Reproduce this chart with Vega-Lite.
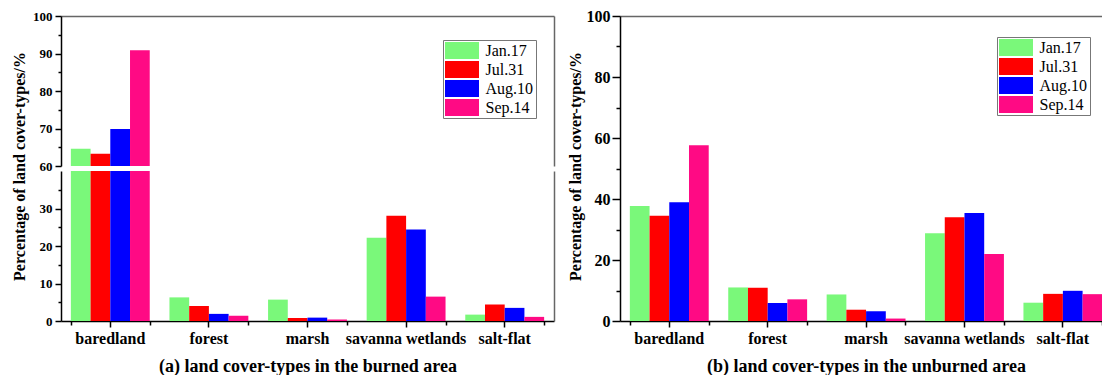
{
  "$schema": "https://vega.github.io/schema/vega-lite/v6.json",
  "background": "white",
  "padding": {"left": 10, "top": 8, "right": 0, "bottom": 0},
  "spacing": 13,
  "datasets": {
    "burned": [
      {"type": "baredland", "date": "Jan.17", "value": 64.6},
      {"type": "baredland", "date": "Jul.31", "value": 63.3},
      {"type": "baredland", "date": "Aug.10", "value": 69.9},
      {"type": "baredland", "date": "Sep.14", "value": 90.9},
      {"type": "forest", "date": "Jan.17", "value": 6.3},
      {"type": "forest", "date": "Jul.31", "value": 4.0},
      {"type": "forest", "date": "Aug.10", "value": 1.9},
      {"type": "forest", "date": "Sep.14", "value": 1.4},
      {"type": "marsh", "date": "Jan.17", "value": 5.7},
      {"type": "marsh", "date": "Jul.31", "value": 0.8},
      {"type": "marsh", "date": "Aug.10", "value": 0.9},
      {"type": "marsh", "date": "Sep.14", "value": 0.4},
      {"type": "savanna wetlands", "date": "Jan.17", "value": 22.2},
      {"type": "savanna wetlands", "date": "Jul.31", "value": 28.1},
      {"type": "savanna wetlands", "date": "Aug.10", "value": 24.4},
      {"type": "savanna wetlands", "date": "Sep.14", "value": 6.5},
      {"type": "salt-flat", "date": "Jan.17", "value": 1.7},
      {"type": "salt-flat", "date": "Jul.31", "value": 4.4},
      {"type": "salt-flat", "date": "Aug.10", "value": 3.5},
      {"type": "salt-flat", "date": "Sep.14", "value": 1.1}
    ],
    "unburned": [
      {"type": "baredland", "date": "Jan.17", "value": 37.7},
      {"type": "baredland", "date": "Jul.31", "value": 34.5},
      {"type": "baredland", "date": "Aug.10", "value": 38.9},
      {"type": "baredland", "date": "Sep.14", "value": 57.6},
      {"type": "forest", "date": "Jan.17", "value": 11.0},
      {"type": "forest", "date": "Jul.31", "value": 10.9},
      {"type": "forest", "date": "Aug.10", "value": 5.9},
      {"type": "forest", "date": "Sep.14", "value": 7.1},
      {"type": "marsh", "date": "Jan.17", "value": 8.7},
      {"type": "marsh", "date": "Jul.31", "value": 3.7},
      {"type": "marsh", "date": "Aug.10", "value": 3.2},
      {"type": "marsh", "date": "Sep.14", "value": 0.8},
      {"type": "savanna wetlands", "date": "Jan.17", "value": 28.8},
      {"type": "savanna wetlands", "date": "Jul.31", "value": 34.0},
      {"type": "savanna wetlands", "date": "Aug.10", "value": 35.4},
      {"type": "savanna wetlands", "date": "Sep.14", "value": 22.0},
      {"type": "salt-flat", "date": "Jan.17", "value": 6.0},
      {"type": "salt-flat", "date": "Jul.31", "value": 8.9},
      {"type": "salt-flat", "date": "Aug.10", "value": 9.9},
      {"type": "salt-flat", "date": "Sep.14", "value": 8.8}
    ]
  },
  "resolve": {"legend": {"color": "independent"}},
  "hconcat": [
    {
      "bounds": "flush",
      "spacing": 5,
      "resolve": {"legend": {"color": "independent"}},
      "vconcat": [
        {
          "width": 493,
          "height": 150,
          "data": {"name": "burned"},
          "encoding": {
            "x": {"field": "type", "type": "nominal", "scale": {"domain": ["baredland", "forest", "marsh", "savanna wetlands", "salt-flat"], "paddingInner": 0.2, "paddingOuter": 0.1}, "axis": null},
            "xOffset": {"field": "date", "type": "nominal", "scale": {"domain": ["Jan.17", "Jul.31", "Aug.10", "Sep.14"], "paddingInner": 0, "paddingOuter": 0}},
            "color": {"field": "date", "type": "nominal", "scale": {"domain": ["Jan.17", "Jul.31", "Aug.10", "Sep.14"], "range": ["#7AF87A", "#FF0000", "#0000FF", "#FF0A84"]}, "legend": {"legendX": 382, "legendY": 24}}
          },
          "layer": [
            {
              "mark": {"type": "bar", "clip": true},
              "encoding": {
                "y": {"field": "value", "type": "quantitative", "scale": {"domain": [60, 100], "nice": false, "zero": false},
                  "axis": {"orient": "left", "values": [60, 70, 80, 90, 100], "title": null, "labelFontSize": 13}}
              }
            },
            {
              "mark": {"type": "bar", "clip": true, "opacity": 0},
              "encoding": {
                "y": {"field": "value", "type": "quantitative",
                  "axis": {"orient": "left", "values": [65, 75, 85, 95], "title": null, "labels": false, "domain": false, "tickSize": 3}}
              }
            },
            {
              "mark": {"type": "bar", "clip": true, "opacity": 0},
              "encoding": {
                "x": {"field": "type", "type": "nominal", "axis": {"orient": "top", "labels": false, "ticks": false, "title": null, "domainColor": "#666666"}},
                "y": {"field": "value", "type": "quantitative",
                  "axis": {"orient": "right", "title": null, "labels": false, "ticks": false, "domainColor": "#666666"}}
              }
            }
          ],
          "resolve": {"axis": {"x": "independent", "y": "independent"}}
        },
        {
          "width": 493,
          "height": 150,
          "data": {"name": "burned"},
          "encoding": {
            "xOffset": {"field": "date", "type": "nominal", "scale": {"domain": ["Jan.17", "Jul.31", "Aug.10", "Sep.14"], "paddingInner": 0, "paddingOuter": 0}},
            "color": {"field": "date", "type": "nominal", "scale": {"domain": ["Jan.17", "Jul.31", "Aug.10", "Sep.14"], "range": ["#7AF87A", "#FF0000", "#0000FF", "#FF0A84"]}, "legend": null}
          },
          "layer": [
            {
              "mark": {"type": "bar", "clip": true},
              "encoding": {
                "x": {"field": "type", "type": "nominal", "scale": {"domain": ["baredland", "forest", "marsh", "savanna wetlands", "salt-flat"], "paddingInner": 0.2, "paddingOuter": 0.1},
                  "axis": {"orient": "bottom", "title": "(a) land cover-types in the burned area", "titleY": 45}},
                "y": {"field": "value", "type": "quantitative", "scale": {"domain": [0, 40], "nice": false},
                  "axis": {"orient": "left", "values": [0, 10, 20, 30], "labelFontSize": 13, "title": "Percentage of land cover-types/%", "titleX": -42, "titleY": -5}}
              }
            },
            {
              "mark": {"type": "bar", "clip": true, "opacity": 0},
              "encoding": {
                "x": {"field": "type", "type": "nominal", "axis": {"orient": "bottom", "tickBand": "extent", "tickSize": 4, "labels": false, "domain": false, "title": null}},
                "y": {"field": "value", "type": "quantitative",
                  "axis": {"orient": "left", "values": [5, 15, 25, 35], "title": null, "labels": false, "domain": false, "tickSize": 3}}
              }
            },
            {
              "mark": {"type": "bar", "clip": true, "opacity": 0},
              "encoding": {
                "x": {"field": "type", "type": "nominal", "axis": null},
                "y": {"field": "value", "type": "quantitative",
                  "axis": {"orient": "right", "title": null, "labels": false, "ticks": false, "domainColor": "#666666"}}
              }
            }
          ],
          "resolve": {"axis": {"x": "independent", "y": "independent"}}
        }
      ]
    },
    {
      "width": 492,
      "height": 305,
      "data": {"name": "unburned"},
      "encoding": {
        "xOffset": {"field": "date", "type": "nominal", "scale": {"domain": ["Jan.17", "Jul.31", "Aug.10", "Sep.14"], "paddingInner": 0, "paddingOuter": 0}},
        "color": {"field": "date", "type": "nominal", "scale": {"domain": ["Jan.17", "Jul.31", "Aug.10", "Sep.14"], "range": ["#7AF87A", "#FF0000", "#0000FF", "#FF0A84"]}, "legend": {"legendX": 377, "legendY": 21}}
      },
      "layer": [
        {
          "mark": {"type": "bar", "clip": true},
          "encoding": {
            "x": {"field": "type", "type": "nominal", "scale": {"domain": ["baredland", "forest", "marsh", "savanna wetlands", "salt-flat"], "paddingInner": 0.2, "paddingOuter": 0.1},
              "axis": {"orient": "bottom", "title": "(b) land cover-types in the unburned area", "titleY": 45}},
            "y": {"field": "value", "type": "quantitative", "scale": {"domain": [0, 100], "nice": false},
              "axis": {"orient": "left", "values": [0, 20, 40, 60, 80, 100], "labelFontSize": 16, "tickSize": 8, "labelPadding": 2, "title": "Percentage of land cover-types/%", "titleX": -45, "titleY": 150}}
          }
        },
        {
          "mark": {"type": "bar", "clip": true, "opacity": 0},
          "encoding": {
            "x": {"field": "type", "type": "nominal", "axis": {"orient": "bottom", "tickBand": "extent", "tickSize": 4, "labels": false, "domain": false, "title": null}},
            "y": {"field": "value", "type": "quantitative",
              "axis": {"orient": "left", "values": [10, 30, 50, 70, 90], "title": null, "labels": false, "domain": false, "tickSize": 4}}
          }
        },
        {
          "mark": {"type": "bar", "clip": true, "opacity": 0},
          "encoding": {
            "x": {"field": "type", "type": "nominal", "axis": {"orient": "top", "labels": false, "ticks": false, "title": null, "domainColor": "#666666"}},
            "y": {"field": "value", "type": "quantitative", "axis": null}
          }
        }
      ],
      "resolve": {"axis": {"x": "independent", "y": "independent"}}
    }
  ],
  "config": {
    "view": {"stroke": null},
    "axis": {
      "grid": false,
      "labelFont": "Liberation Serif",
      "labelFontWeight": "bold",
      "labelColor": "black",
      "labelFontSize": 16,
      "labelAngle": 0,
      "labelPadding": 3,
      "titleFont": "Liberation Serif",
      "titleFontWeight": "bold",
      "titleColor": "black",
      "titleFontSize": 18,
      "titleBaseline": "middle",
      "domainColor": "black",
      "domainWidth": 1.5,
      "tickColor": "black",
      "tickWidth": 1.5,
      "tickSize": 6
    },
    "axisY": {"titleFontSize": 16},
    "legend": {
      "orient": "none",
      "title": null,
      "symbolType": "M-2,-1H2V1H-2Z",
      "symbolSize": 289,
      "symbolOffset": 8.5,
      "symbolStrokeWidth": 0,
      "symbolOpacity": 1,
      "labelFont": "Liberation Serif",
      "labelFontSize": 16,
      "labelColor": "black",
      "labelOffset": 15,
      "rowPadding": 2,
      "padding": 2,
      "strokeColor": "#777777",
      "fillColor": "white"
    }
  }
}
